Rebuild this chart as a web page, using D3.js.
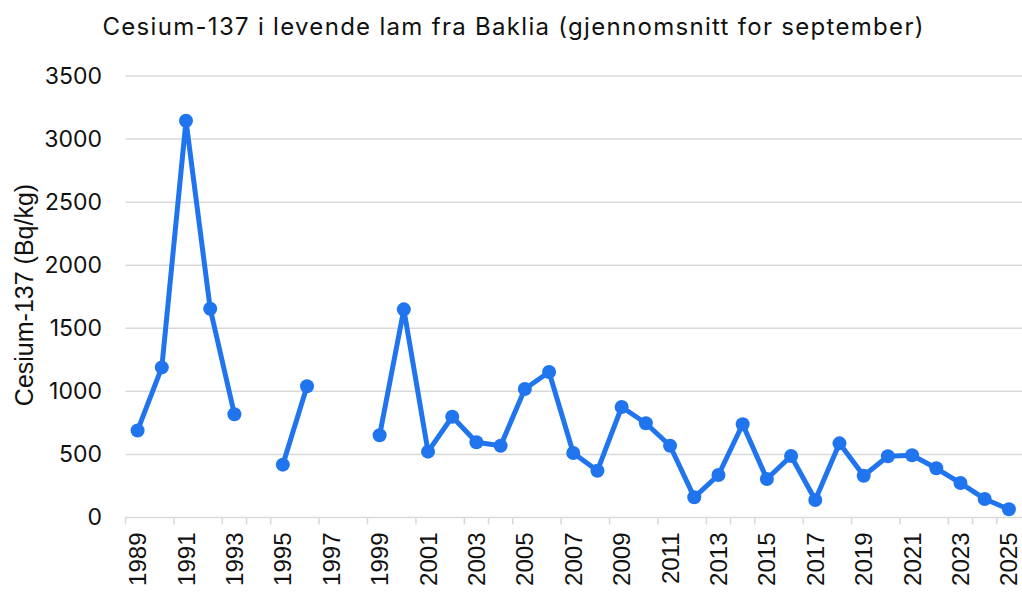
<!DOCTYPE html>
<html><head><meta charset="utf-8">
<script src="https://cdn.jsdelivr.net/npm/d3@7"></script>
<style>html,body{margin:0;padding:0;background:#fff;}svg{display:block;}</style>
</head><body>
<svg id="chart" width="1022" height="593"></svg>
<script>
const years = d3.range(1989, 2026);
const values = [690, 1190, 3145, 1655, 818, null, 419, 1040, null, null, 652, 1650, 522, 799, 596, 569, 1019, 1153, 511, 371, 876, 747, 569, 160, 337, 739, 305, 488, 139, 588, 331, 485, 493, 390, 273, 147, 65];
const yTicks = [0, 500, 1000, 1500, 2000, 2500, 3000, 3500];
const xLabelYears = d3.range(1989, 2026, 2);
const tickBoundaries = [0, 2, 4, 5, 6, 8, 10, 12, 14, 15, 16, 18, 20, 22, 24, 25, 26, 28, 30, 32, 34, 35, 36];
const title = "Cesium-137 i levende lam fra Baklia (gjennomsnitt for september)";
const yTitle = "Cesium-137 (Bq/kg)";

(function () {
const svg = d3.select("#chart");
const pLeft = 125.5, pRight = 1021, pTop = 76, pBottom = 517.5;
const x = d3.scaleBand().domain(years).range([pLeft, pRight]).padding(0);
const y = d3.scaleLinear().domain([0, 3500]).range([pBottom, pTop]);
const color = "#2075ee";
const grid = "#d9d9d9";

svg.append("text").attr("x", 513).attr("y", 34.5).attr("text-anchor", "middle")
  .attr("font-family", "Inter").attr("font-size", 24).attr("fill", "#111")
  .attr("textLength", 821).attr("lengthAdjust", "spacing").text(title);

svg.append("g").selectAll("line").data(yTicks.filter(d => d > 0)).join("line")
  .attr("x1", pLeft).attr("x2", 1022).attr("y1", d => y(d)).attr("y2", d => y(d))
  .attr("stroke", grid).attr("stroke-width", 1.5);

const yAxis = d3.axisLeft(y).tickValues(yTicks).tickFormat(d3.format("d")).tickSize(0).tickPadding(0);
const gy = svg.append("g").attr("transform", `translate(102,0)`).call(yAxis);
gy.select(".domain").remove();
gy.selectAll("text").attr("font-family", "Inter").attr("font-size", 23).attr("fill", "#111");

svg.append("line").attr("x1", pLeft).attr("x2", 1022).attr("y1", y(0)).attr("y2", y(0))
  .attr("stroke", grid).attr("stroke-width", 1.5);
const bw = x.bandwidth();
svg.append("g").selectAll("line").data(tickBoundaries).join("line")
  .attr("x1", d => pLeft + d * bw).attr("x2", d => pLeft + d * bw)
  .attr("y1", y(0)).attr("y2", y(0) + 7).attr("stroke", grid).attr("stroke-width", 1.5);

const xAxis = d3.axisBottom(x).tickValues(xLabelYears).tickSize(0).tickPadding(0);
const gx = svg.append("g").attr("transform", `translate(0,${y(0)})`).call(xAxis);
gx.select(".domain").remove();
gx.selectAll("text").attr("font-family", "Liberation Sans, Arial, sans-serif").attr("font-size", 24)
  .attr("fill", "#111").attr("text-anchor", "end").attr("dy", null)
  .attr("transform", "translate(0,15) rotate(-90)").attr("x", 0).attr("y", 0)
  .attr("dominant-baseline", "central");

svg.append("text").attr("transform", "translate(24,295) rotate(-90)").attr("text-anchor", "middle")
  .attr("dominant-baseline", "central")
  .attr("font-family", "Liberation Sans, Arial, sans-serif").attr("font-size", 25).attr("fill", "#111").text(yTitle);

const data = years.map((yr, i) => ({ yr, v: values[i] }));
const cx = d => x(d.yr) + bw / 2;
const line = d3.line().defined(d => d.v != null).x(cx).y(d => y(d.v));
svg.append("path").datum(data).attr("d", line).attr("fill", "none")
  .attr("stroke", color).attr("stroke-width", 5).attr("stroke-linejoin", "round");
svg.append("g").selectAll("circle").data(data.filter(d => d.v != null)).join("circle")
  .attr("cx", cx).attr("cy", d => y(d.v)).attr("r", 7).attr("fill", color);
})();
</script>
</body></html>
